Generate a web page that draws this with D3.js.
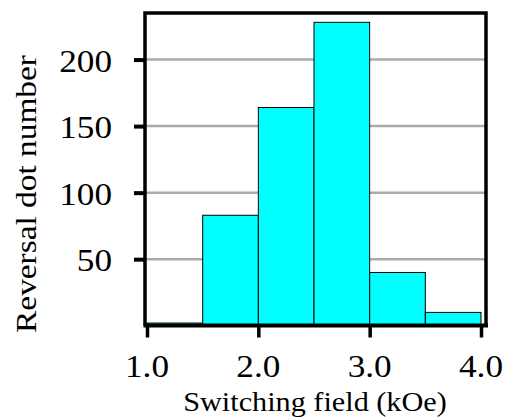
<!DOCTYPE html>
<html>
<head>
<meta charset="utf-8">
<script src="https://cdn.jsdelivr.net/npm/d3@7"></script>
<style>
  body { margin: 0; background: #fff; }
  text { font-family: "Liberation Serif", "Times New Roman", serif; fill: #000; }
</style>
</head>
<body>
<div id="chart"></div>
<script>
// histogram bins (kOe) and counts
const binStarts = [1.0, 1.5, 2.0, 2.5, 3.0, 3.5];
const binWidth = 0.5;
const counts = [2, 83, 164, 228, 40, 10];
const xTicks = [1, 2, 3, 4];
const yTicks = [50, 100, 150, 200];

const W = 510, H = 419;
const svg = d3.select("#chart").append("svg")
  .attr("width", W).attr("height", H);

const x = d3.scaleLinear().domain([1, 4]).range([147, 481]);
const y = d3.scaleLinear().domain([0, 235]).range([325.7, 13]);

const frameL = 145, frameR = 486, frameT = 13, frameB = 325.5;

// grid lines
svg.append("g").selectAll("line")
  .data(yTicks).join("line")
  .attr("x1", frameL).attr("x2", frameR)
  .attr("y1", d => y(d)).attr("y2", d => y(d))
  .attr("stroke", "#aaaaaa").attr("stroke-width", 2.5);

// bars
svg.append("g").selectAll("rect")
  .data(binStarts.map((s, i) => ({s: s, v: counts[i]})))
  .join("rect")
  .attr("x", d => x(d.s))
  .attr("width", d => x(d.s + binWidth) - x(d.s))
  .attr("y", d => y(d.v))
  .attr("height", d => y(0) - y(d.v))
  .attr("fill", "#00ffff")
  .attr("stroke", "#000")
  .attr("stroke-width", 1);

// frame: left, top, right
svg.append("path")
  .attr("d", `M${frameL},${frameB} V${frameT} H${frameR} V${frameB}`)
  .attr("fill", "none").attr("stroke", "#000").attr("stroke-width", 3.5);

// bottom axis (ticks only, labels drawn below)
const xAxis = svg.append("g")
  .attr("transform", `translate(0,${frameB})`)
  .call(d3.axisBottom(x).tickValues(xTicks).tickFormat("").tickSize(12));
xAxis.select(".domain").remove();
xAxis.append("line").attr("x1", frameL - 1.5).attr("x2", frameR + 2)
  .attr("stroke", "#000").attr("stroke-width", 4);
xAxis.selectAll(".tick line").attr("stroke", "#000").attr("stroke-width", 3.5);

svg.append("g").selectAll("text")
  .data(xTicks).join("text")
  .attr("transform", d => `translate(${x(d)},377) scale(1.1,1)`)
  .attr("text-anchor", "middle")
  .style("font-size", "32px")
  .text(d3.format(".1f"));

// left axis ticks
const yAxis = svg.append("g")
  .attr("transform", `translate(${frameL},0)`)
  .call(d3.axisLeft(y).tickValues(yTicks).tickFormat("").tickSize(11));
yAxis.select(".domain").remove();
yAxis.selectAll(".tick line").attr("stroke", "#000").attr("stroke-width", 4);

svg.append("g").selectAll("text")
  .data(yTicks).join("text")
  .attr("transform", d => `translate(112,${y(d) + 12}) scale(1.1,1)`)
  .attr("text-anchor", "end")
  .style("font-size", "32px")
  .text(d => d);

// axis titles
svg.append("text")
  .attr("transform", "translate(315,411) scale(1.08,1)")
  .attr("text-anchor", "middle")
  .style("font-size", "28px")
  .text("Switching field (kOe)");

svg.append("text")
  .attr("transform", "translate(35.5,194) rotate(-90) scale(1.15,1)")
  .attr("text-anchor", "middle")
  .style("font-size", "29px")
  .text("Reversal dot number");
</script>
</body>
</html>
